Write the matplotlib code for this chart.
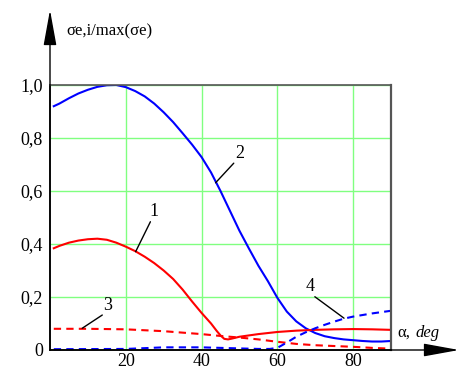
import matplotlib
matplotlib.use("Agg")
import matplotlib.pyplot as plt

plt.rcParams['font.family'] = ['Liberation Serif', 'DejaVu Serif']

# Curve 2 (blue solid)
x2 = [1, 2.5, 5, 7.5, 10, 12.5, 15, 17.5, 20, 22.5, 25, 27.5, 30, 32.5, 35, 37.5, 40,
      42.5, 45, 47.5, 50, 52.5, 55, 57.5, 60, 62.5, 65, 67.5, 70, 72.5, 75, 77.5, 80,
      82.5, 85, 87.5, 90]
y2 = [0.92, 0.93, 0.95, 0.968, 0.982, 0.993, 0.999, 1.0, 0.992, 0.977, 0.957, 0.93,
      0.897, 0.86, 0.818, 0.775, 0.728, 0.67, 0.6, 0.525, 0.45, 0.383, 0.318, 0.26,
      0.197, 0.145, 0.108, 0.082, 0.064, 0.052, 0.045, 0.04, 0.037, 0.034, 0.032,
      0.032, 0.034]
# Curve 1 (red solid)
x1 = [1, 2.5, 5, 7.5, 10, 12.5, 15, 17.5, 20, 22.5, 25, 27.5, 30, 32.5, 35, 37.5, 40,
      42.5, 44, 45, 46, 47, 48, 50, 55, 60, 65, 70, 75, 80, 85, 90]
y1 = [0.384, 0.393, 0.405, 0.413, 0.418, 0.42, 0.416, 0.405, 0.39, 0.373, 0.352,
      0.328, 0.30, 0.268, 0.228, 0.183, 0.14, 0.1, 0.072, 0.055, 0.042, 0.04, 0.043,
      0.05, 0.06, 0.068, 0.073, 0.076, 0.078, 0.079, 0.078, 0.076]
# Curve 3 (red dashed)
x3 = [1, 10, 20, 30, 40, 45, 50, 55, 60, 65, 70, 75, 80, 85, 90]
y3 = [0.08, 0.08, 0.078, 0.071, 0.06, 0.053, 0.047, 0.04, 0.031, 0.023, 0.018,
      0.015, 0.012, 0.008, 0.005]
# Curve 4 (blue dashed)
x4 = [1, 20, 25, 30, 40, 45, 50, 55, 58, 60, 62.5, 65, 67.5, 70, 72.5, 75, 77.5, 80,
      85, 90]
y4 = [0.003, 0.004, 0.007, 0.01, 0.01, 0.008, 0.006, 0.004, 0.004, 0.008, 0.028,
      0.05, 0.067, 0.082, 0.095, 0.107, 0.118, 0.126, 0.138, 0.148]

xticks = [20, 40, 60, 80]
xticklabels = ["20", "40", "60", "80"]
yticks = [0, 0.2, 0.4, 0.6, 0.8, 1.0]
yticklabels = ["0", "0,2", "0,4", "0,6", "0,8", "1,0"]

fig = plt.figure(figsize=(4.6, 3.71), dpi=100)
ax = fig.add_axes([50/460, 21/371, 341/460, 265/371])
ax.set_xlim(0, 90)
ax.set_ylim(0, 1.0)

grid_c = '#80ff80'
ax.set_xticks(xticks)
ax.set_xticklabels(xticklabels, fontsize=13)
ax.set_yticks(yticks)
ax.set_yticklabels(yticklabels, fontsize=13)
ax.tick_params(axis='x', length=0, pad=2)
ax.tick_params(axis='y', length=0, pad=5)
ax.grid(True, color=grid_c, lw=1.0)
ax.set_axisbelow(True)

for s in ['top', 'right']:
    ax.spines[s].set_color('#555555')
    ax.spines[s].set_linewidth(1.2)
ax.spines['right'].set_linewidth(1.6)
for s in ['left', 'bottom']:
    ax.spines[s].set_color('black')
    ax.spines[s].set_linewidth(1.2)

lw = 1.5
ax.plot(x2, y2, color='#0000ff', lw=lw)
ax.plot(x1, y1, color='#ff0000', lw=lw)
ax.plot(x3, y3, color='#ff0000', lw=lw, ls=(0, (3.5, 2.5)), clip_on=False)
ax.plot(x4, y4, color='#0000ff', lw=lw, ls=(0, (3.5, 2.5)), clip_on=False)

ap = dict(arrowstyle='-', color='black', lw=1.0, shrinkA=0, shrinkB=0)
labels = [("1", (22.6, 0.371), (26.5, 0.484), (27.4, 0.49)),
          ("2", (43.7, 0.631), (48.5, 0.705), (50.1, 0.71)),
          ("3", (8.5, 0.082), (13.8, 0.132), (15.2, 0.137)),
          ("4", (77.6, 0.12), (69.9, 0.201), (68.6, 0.207))]
for t, end, start, tpos in labels:
    ax.annotate("", xy=end, xytext=start, arrowprops=ap)
    ax.text(tpos[0], tpos[1], t, fontsize=13, ha='center', va='bottom')

# axis arrows
fig.patches.append(matplotlib.patches.FancyArrowPatch(
    (50/460, 21/371), (50/460, 361/371), transform=fig.transFigure,
    arrowstyle='-|>,head_length=2.2,head_width=0.4', mutation_scale=10,
    color='black', lw=1.0, shrinkA=0, shrinkB=0))
fig.patches.append(matplotlib.patches.FancyArrowPatch(
    (50/460, 21/371), (459/460, 21/371), transform=fig.transFigure,
    arrowstyle='-|>,head_length=2.2,head_width=0.4', mutation_scale=10,
    color='black', lw=1.0, shrinkA=0, shrinkB=0))

fig.text(66/460, 1 - 31/371, "σe,i/max(σe)", fontsize=12, ha='left', va='center')
fig.text(397/460, 1 - 333/371, "α,", fontsize=12, ha='left', va='center')
fig.text(416/460, 1 - 333/371, "deg", fontsize=12, ha='left', va='center', style='italic')

fig.savefig("out.png", dpi=100)
